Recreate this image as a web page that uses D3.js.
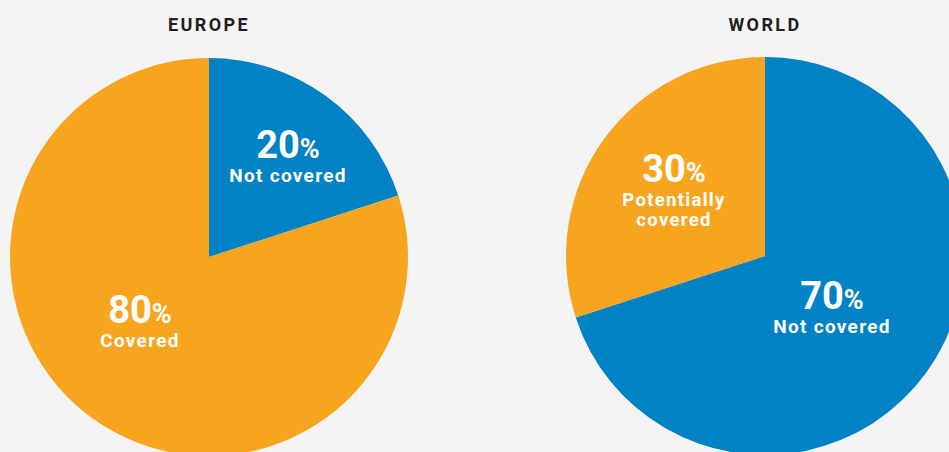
<!DOCTYPE html>
<html><head><meta charset="utf-8">
<script src="https://cdn.jsdelivr.net/npm/d3@7"></script>
<style>
html,body{margin:0;padding:0;background:#f4f4f4;overflow:hidden}
text{font-family:Roboto,"DejaVu Sans",sans-serif;font-weight:700}
</style></head>
<body><svg id="c" width="949" height="452"></svg>
<script>
const charts = ["EUROPE", "WORLD"];
const europeLabels = ["Not covered", "Covered"];
const europeValues = [20, 80];
const worldLabels = ["Not covered", "Potentially covered"];
const worldValues = [70, 30];
const colors = {"Not covered": "#0082c4", "Covered": "#f7a51f", "Potentially covered": "#f7a51f"};

const svg = d3.select("#c");
svg.append("rect").attr("width", 949).attr("height", 452).attr("fill", "#f4f4f4");

const R = 199;
const pie = d3.pie().sort(null).value(d => d.v);
const arc = d3.arc().innerRadius(0).outerRadius(R);

const configs = [
  {title: charts[0], cx: 209, cy: 257, labels: europeLabels, values: europeValues,
   pos: [[79, -99], [-69, 66]], lines: [["Not covered"], ["Covered"]]},
  {title: charts[1], cx: 765, cy: 256, labels: worldLabels, values: worldValues,
   pos: [[67, 53], [-91, -74]], lines: [["Not covered"], ["Potentially", "covered"]]}
];

configs.forEach(cfg => {
  svg.append("text").attr("x", cfg.cx).attr("y", 31).attr("text-anchor", "middle")
    .attr("fill", "#231f20").attr("font-size", 18).attr("letter-spacing", 2.4).text(cfg.title);
  const data = cfg.labels.map((l, i) => ({l, v: cfg.values[i]}));
  const g = svg.append("g").attr("transform", `translate(${cfg.cx},${cfg.cy})`);
  const arcs = pie(data);
  g.selectAll("path").data(arcs).join("path").attr("d", arc).attr("fill", d => colors[d.data.l]);
  arcs.forEach((a, i) => {
    const [dx, dy] = cfg.pos[i];
    const t = g.append("text").attr("x", dx).attr("y", dy).attr("text-anchor", "middle").attr("fill", "#fff");
    t.append("tspan").attr("font-size", 38).text(a.data.v);
    t.append("tspan").attr("font-size", 27).text("%");
    cfg.lines[i].forEach((ln, j) => {
      g.append("text").attr("x", dx).attr("y", dy + 24 + j * 20).attr("text-anchor", "middle")
        .attr("fill", "#fff").attr("font-size", cfg.lines[i].length > 1 ? 18.5 : 19)
        .attr("letter-spacing", 1.3).text(ln);
    });
  });
});
</script></body></html>
